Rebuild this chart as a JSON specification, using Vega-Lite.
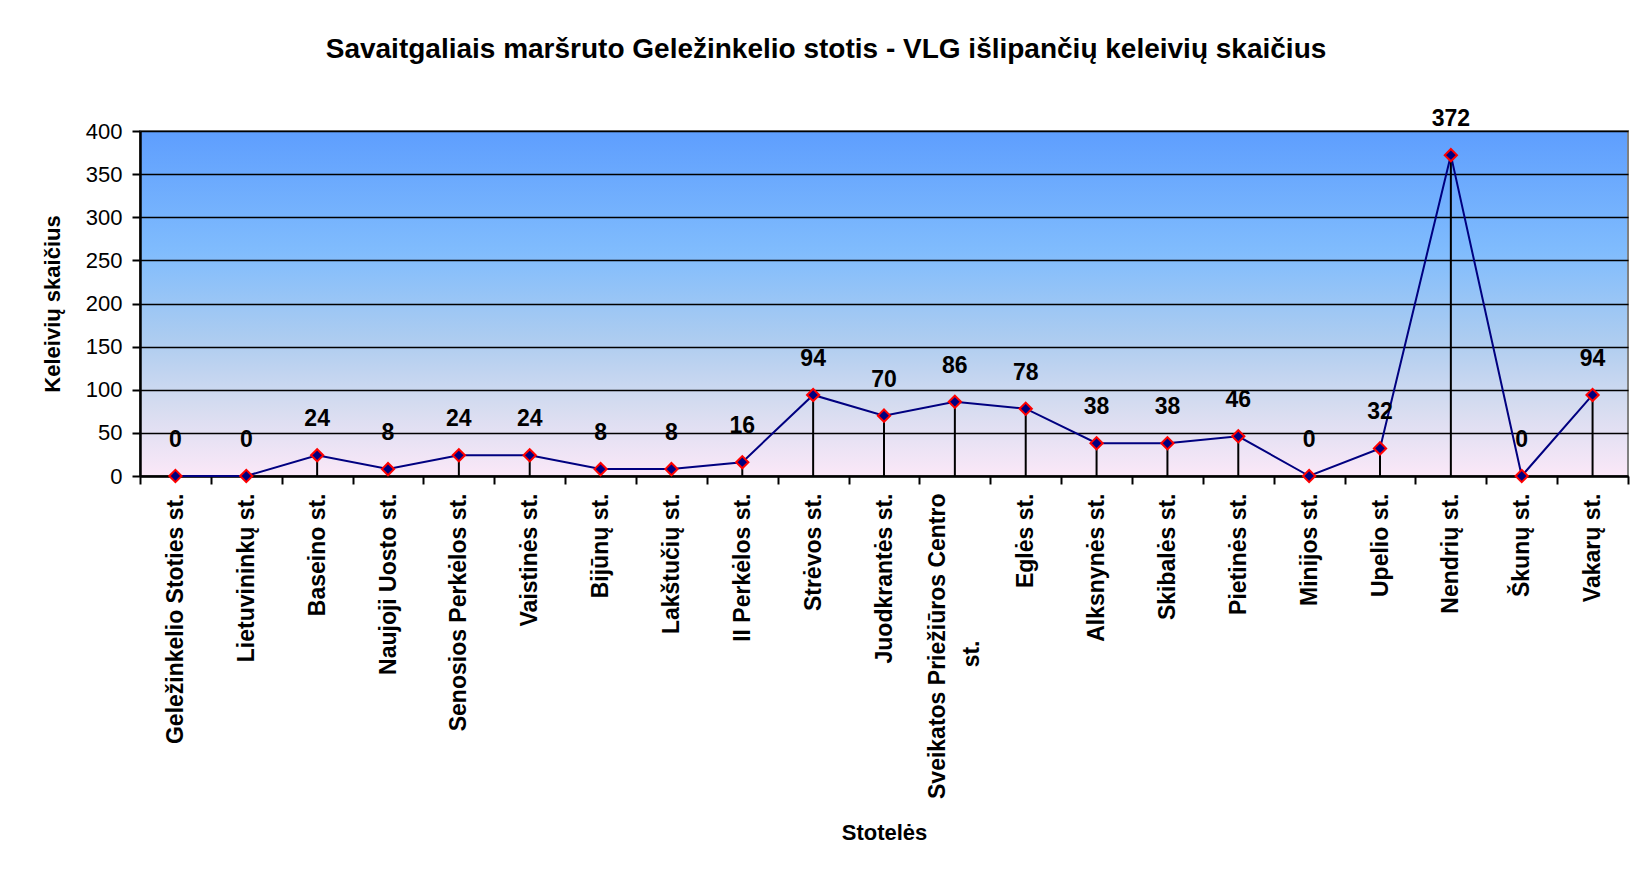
{
  "$schema": "https://vega.github.io/schema/vega-lite/v6.json",
  "width": 1488,
  "height": 345,
  "autosize": {"type": "none"},
  "padding": {"left": 140, "top": 131, "right": 14, "bottom": 394},
  "background": "white",
  "config": {"font": "Liberation Sans"},
  "title": {
    "text": "Savaitgaliais maršruto Geležinkelio stotis - VLG išlipančių keleivių skaičius",
    "font": "Liberation Sans",
    "fontSize": 28,
    "fontWeight": "bold",
    "color": "black",
    "anchor": "middle",
    "frame": "group",
    "dx": -58,
    "offset": 44
  },
  "view": {
    "fill": {
      "gradient": "linear",
      "x1": 0, "y1": 0, "x2": 0, "y2": 1,
      "stops": [
        {"offset": 0, "color": "#5e9efe"},
        {"offset": 0.35, "color": "#80bcfd"},
        {"offset": 0.6, "color": "#acccf0"},
        {"offset": 0.8, "color": "#d6dcf0"},
        {"offset": 1, "color": "#fbe8f8"}
      ]
    },
    "stroke": "#808080",
    "strokeWidth": 2
  },
  "data": {
    "values": [
      {"stop": "Geležinkelio Stoties st.", "value": 0},
      {"stop": "Lietuvininkų st.", "value": 0},
      {"stop": "Baseino st.", "value": 24},
      {"stop": "Naujoji Uosto st.", "value": 8},
      {"stop": "Senosios Perkėlos st.", "value": 24},
      {"stop": "Vaistinės st.", "value": 24},
      {"stop": "Bijūnų st.", "value": 8},
      {"stop": "Lakštučių st.", "value": 8},
      {"stop": "II Perkėlos st.", "value": 16},
      {"stop": "Strėvos st.", "value": 94},
      {"stop": "Juodkrantės st.", "value": 70},
      {"stop": "Sveikatos Priežiūros Centro st.", "value": 86},
      {"stop": "Eglės st.", "value": 78},
      {"stop": "Alksnynės st.", "value": 38},
      {"stop": "Skibalės st.", "value": 38},
      {"stop": "Pietinės st.", "value": 46},
      {"stop": "Minijos st.", "value": 0},
      {"stop": "Upelio st.", "value": 32},
      {"stop": "Nendrių st.", "value": 372},
      {"stop": "Škunų st.", "value": 0},
      {"stop": "Vakarų st.", "value": 94}
    ]
  },
  "encoding": {
    "x": {
      "field": "stop",
      "type": "nominal",
      "sort": null,
      "bandPosition": 0.5,
      "scale": {"type": "band", "paddingInner": 0, "paddingOuter": 0},
      "axis": {
        "title": "Stotelės",
        "titleFont": "Liberation Sans",
        "titleFontSize": 22,
        "titleFontWeight": "bold",
        "titleColor": "black",
        "titleY": 356,
        "titleBaseline": "middle",
        "labelAngle": -90,
        "labelAlign": "right",
        "labelBaseline": "middle",
        "labelFont": "Liberation Sans",
        "labelFontSize": 23,
        "labelFontWeight": "bold",
        "labelColor": "black",
        "labelLimit": 0,
        "labelOverlap": false,
        "labelPadding": 9,
        "labelLineHeight": 34,
        "labelOffset": {"condition": {"test": "datum.value == 'Sveikatos Priežiūros Centro st.'", "value": -17}, "value": 0},
        "labelExpr": "datum.label == 'Sveikatos Priežiūros Centro st.' ? ['Sveikatos Priežiūros Centro', 'st.\u00a0\u00a0\u00a0\u00a0\u00a0\u00a0\u00a0\u00a0\u00a0\u00a0\u00a0\u00a0\u00a0\u00a0\u00a0\u00a0\u00a0\u00a0\u00a0\u00a0\u00a0\u00a0\u00a0\u200b'] : datum.label",
        "tickBand": "extent",
        "tickSize": 8,
        "tickWidth": 2,
        "tickColor": "black",
        "domainColor": "black",
        "domainWidth": 2.5
      }
    }
  },
  "layer": [
    {
      "mark": {"type": "rule", "color": "black", "strokeWidth": 2},
      "encoding": {
        "y": {
          "field": "value",
          "type": "quantitative",
          "scale": {"domain": [0, 400], "nice": false},
          "axis": {
            "title": "Keleivių skaičius",
            "titleFont": "Liberation Sans",
            "titleFontSize": 22,
            "titleFontWeight": "bold",
            "titleColor": "black",
            "titlePadding": 21,
            "values": [0, 50, 100, 150, 200, 250, 300, 350, 400],
            "grid": true,
            "gridColor": "black",
            "gridWidth": 1.5,
            "gridOpacity": 1,
            "labelFont": "Liberation Sans",
            "labelFontSize": 22,
            "labelColor": "black",
            "labelPadding": 10,
            "tickSize": 8,
            "tickWidth": 2,
            "tickColor": "black",
            "domainColor": "black",
            "domainWidth": 2.5
          }
        },
        "y2": {"datum": 0}
      }
    },
    {
      "mark": {"type": "line", "color": "#000080", "strokeWidth": 2},
      "encoding": {"y": {"field": "value", "type": "quantitative"}}
    },
    {
      "mark": {"type": "point", "shape": "diamond", "filled": true, "fill": "#000080", "stroke": "red", "strokeWidth": 2, "size": 150, "opacity": 1},
      "encoding": {"y": {"field": "value", "type": "quantitative"}}
    },
    {
      "mark": {"type": "text", "dy": -36, "font": "Liberation Sans", "fontSize": 23, "fontWeight": "bold", "color": "black", "baseline": "middle"},
      "encoding": {
        "y": {"field": "value", "type": "quantitative"},
        "text": {"field": "value", "type": "quantitative"}
      }
    }
  ]
}
